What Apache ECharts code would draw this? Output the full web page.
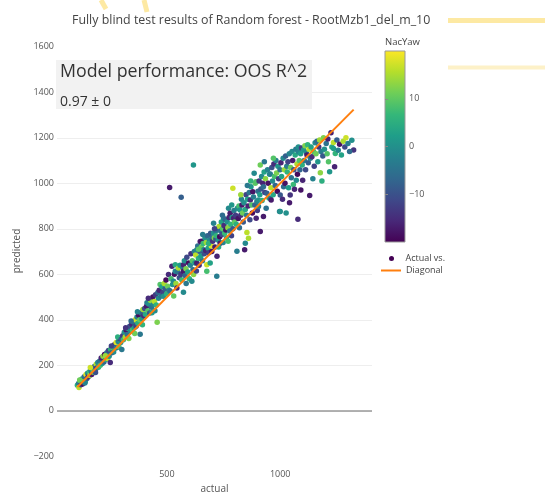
<!DOCTYPE html>
<html><head><meta charset="utf-8">
<script src="https://cdn.jsdelivr.net/npm/echarts@6/dist/echarts.min.js"></script>
<style>html,body{margin:0;padding:0;background:#fff}#c{width:545px;height:502px}</style>
</head><body><div id="c"></div>
<script>
const titleText = 'Fully blind test results of Random forest - RootMzb1_del_m_10';
const actual = [
105,110,112,118,120,125,128,132,135,140, 143,147,150,153,158,160,165,168,172,175, 180,183,188,190,195,198,115,138,162,185,
203,206,210,214,218,222,225,230,235,238, 242,245,250,252,257,260,265,268,272,276, 280,285,288,292,296,301,228,255,283,298,
305,308,312,316,320,325,328,332,336,340, 345,348,352,356,360,364,368,372,376,380, 382,386,390,394,398,342,358,370,392,318,
402,405,410,412,416,420,424,428,432,434, 438,441,445,450,453,457,460,463,466,470, 474,478,482,485,488,492,496,499,418,447,
503,507,510,515,518,522,525,529,533,537, 537,540,544,548,551,555,558,562,566,570, 573,573,573,577,580,584,588,592,596,599, 512,563,530,585,
603,606,610,612,615,617,618,621,624,627, 630,632,632,636,639,642,645,647,650,652, 654,657,660,662,665,668,671,674,676,676, 679,682,685,688,691,693,696,698,640,658, 684,699,
702,706,706,709,712,715,716,718,720,721, 724,727,730,733,735,737,740,743,746,748, 750,752,755,758,760,763,766,769,772,774, 777,779,782,785,788,791,791,794,796,799, 710,728,745,770,786,
803,806,809,811,815,818,820,823,826,829, 831,834,837,840,843,846,846,849,852,853, 856,858,860,863,866,868,871,874,877,879, 882,885,888,890,893,894,897,899,826,855, 870,
902,904,904,907,910,912,912,915,918,920, 923,926,926,929,932,935,938,941,944,947, 950,953,956,956,959,960,963,966,969,972, 975,978,981,984,987,990,993,997,999,1000, 1000,930,970,
1003,1006,1010,1013,1015,1018,1021,1024,1026,1029, 1031,1034,1037,1040,1041,1044,1046,1049,1052,1055, 1058,1060,1063,1066,1069,1071,1074,1076,1078,1080, 1081,1084,1087,1090,1091,1094,1097,1099,
1103,1106,1109,1112,1115,1118,1121,1124,1127,1130, 1133,1136,1140,1144,1147,1150,1154,1158,1162,1166, 1170,1174,1177,1180,1184,1188,1191,1195,
1203,1207,1210,1213,1218,1224,1228,1235,1235,1240, 1243,1250,1256,1262,1270,1278,1285,1299,1316,1324, 1290,1306
];
const predicted = [
112,120,103,130,115,140,118,135,150,128, 160,142,165,150,172,155,178,160,185,170, 195,176,205,188,212,192,135,122,190,168,
218,200,232,208,240,215,248,226,255,230, 265,240,212,270,255,280,258,290,275,300, 278,305,282,318,300,270,242,285,325,315,
330,312,345,325,355,335,362,318,372,350, 380,355,390,365,400,372,412,385,420,400, 337,430,405,445,418,395,340,435,378,365,
450,425,460,475,440,470,430,485,455,431, 500,467,480,510,465,389,520,495,530,555, 505,545,520,504,560,535,575,515,495,440,
548,599,530,526,580,635,555,570,600,613, 642,560,540,610,628,585,640,600,575,630, 642,613,521,660,595,625,675,610,650,580, 982,939,505,560,
640,690,569,660,620,1080,599,700,650,685, 615,650,708,725,670,640,700,744,680,720, 745,660,735,708,690,760,705,740,613,642, 770,715,695,750,650,780,725,700,710,775, 735,760,
745,781,825,760,720,790,755,770,591,679, 800,750,810,765,737,790,830,775,800,740, 847,815,780,840,795,760,830,805,890,850, 790,868,820,770,850,978,800,847,880,830, 800,720,860,745,905,
860,820,701,890,845,900,805,883,860,930, 905,870,830,915,708,737,885,950,860,784, 930,900,759,960,840,927,985,905,870,963, 940,1044,905,1000,1007,847,920,880,950,990, 1010,
965,927,898,1010,950,1080,788,975,1030,925, 1000,985,854,1050,960,1020,890,956,1060,1000, 935,1040,1041,934,980,927,1070,1010,950,1085, 1030,990,1100,1045,965,1075,1020,876,1060,949, 876,1095,1110,
1090,1030,930,1110,985,1060,1000,1120,869,1075, 1050,1095,980,1130,915,949,1070,1025,1140,1100, 995,1060,974,1125,1150,1014,1085,1040,842,1160, 1138,1100,1060,1130,971,1155,1080,1014,
1146,1100,1165,1060,1135,1124,1170,1090,1150,946, 1110,1160,1117,1020,1140,1075,1178,1130,1185,1095, 1160,1190,1047,1140,1010,1120,1200,1150,
1175,1130,1195,1095,1051,1222,1160,1179,1153,1073, 1131,1190,1145,1172,1125,1185,1160,1175,1189,1146, 1200,1140
];
const nacYaw = [
5,-3,16,9,-12,2,-18,12,-6,4, 18,-9,0,-15,7,14,-4,-17,3,10, -8,1,15,-13,-1,6,11,-2,17,-10,
-5,8,-16,2,13,-7,-19,4,-3,16, -11,0,-15,6,-8,11,-1,-14,3,18, -6,-2,9,-17,1,-4,14,-12,5,-9,
-13,7,0,15,-18,-5,3,12,-10,-1, -16,8,-7,2,17,-12,-3,5,-19,10, -4,-8,1,14,-15,-6,11,-2,6,-14,
-11,4,-17,-3,9,0,-9,13,-5,2, -18,-2,16,-13,6,12,-7,-1,-16,9, -4,3,-12,0,15,-8,-19,5,-15,-1,
11,-15,-2,-6,8,-16,1,-1,-18,-2, 4,14,-16,-5,15,-10,2,-13,7,-3, -16,-17,-1,0,-7,12,-11,3,-19,6, -17,-8,10,-4,
-2,-14,-1,9,-6,1,13,-3,0,16, -12,-17,-1,-5,5,-15,-8,-17,2,11, -18,-4,7,-2,-10,0,-16,14,8,17, -7,3,-13,-1,3,-9,18,-18,10,-3, 5,-6,
-14,0,-2,12,-17,-4,-9,6,-3,-16, -8,1,15,-19,-17,-5,3,-11,9,-2, -2,-15,7,-7,-18,4,0,13,-1,-16, -4,-17,6,-12,2,17,-9,-16,-3,10, -12,4,-6,8,1,
-13,5,-3,-1,-18,8,-6,1,-15,-2, -17,11,-9,0,-17,-1,4,-12,-4,16, 3,-16,15,-5,-11,-15,1,9,-19,-18, -3,-1,-8,10,9,-16,-2,-13,14,-4, 6,
-6,0,-3,-14,2,11,-17,-9,-1,5, -16,-6,-17,3,-12,13,-5,-8,-2,-18, 7,0,-3,-4,16,-17,-10,-1,4,-15, 8,-7,-3,12,-19,1,-13,-2,-5,-9, 0,-4,9,
-16,3,-15,-1,-6,14,-18,-8,0,-3, 6,-12,2,-2,-17,-14,11,-5,-1,-17, 7,-10,-16,4,-3,-1,15,-19,-15,0, -2,9,-7,2,-18,-13,5,-16,
1,-4,12,-11,-1,-17,6,-8,16,-17, -2,3,-15,-2,8,-12,-1,11,-6,1, -14,14,13,-3,5,-9,12,0,
-5,9,-16,9,1,-17,4,16,2,-16, 6,-8,-2,-18,3,15,-11,-3,0,-14, 17,-6
];
const xTicks = [500, 1000];
const yTicks = [-200, 0, 200, 400, 600, 800, 1000, 1200, 1400, 1600];
const cbTicks = [-10, 0, 10];
const annotationTitle = 'Model performance: OOS R^2';
const annotationValue = '0.97 ± 0';
const viridis = ['#440154','#482878','#3e4989','#31688e','#26828e','#1f9e89','#35b779','#6ece58','#b5de2b','#fde725'];

const FONT = '"Open Sans", "DejaVu Sans", sans-serif';
const fmt = v => v < 0 ? '\u2212' + Math.abs(v) : String(v);
const points = actual.map((a, i) => [a, predicted[i], nacYaw[i]]);
const lo = Math.min(...actual), hi = Math.max(...actual);

const chart = echarts.init(document.getElementById('c'), null, {renderer: 'canvas'});
const gradStops = viridis.map((c, i) => ({offset: i / (viridis.length - 1), color: c})).reverse()
  .map(s => ({offset: 1 - s.offset, color: s.color}));

chart.setOption({
  animation: false,
  textStyle: {fontFamily: FONT},
  title: {text: titleText, left: 67, top: 9,
    textStyle: {fontSize: 12.4, fontWeight: 'normal', color: '#444', fontFamily: FONT}},
  grid: [
    {left: 57, right: 173, top: 40, bottom: 40},
    {left: 385, top: 51, width: 20, height: 191, show: true, borderColor: '#999', borderWidth: 1,
      backgroundColor: {type: 'linear', x: 0, y: 0, x2: 0, y2: 1, colorStops: gradStops}}
  ],
  xAxis: [
    {gridIndex: 0, type: 'value', min: 15, max: 1405,
      name: 'actual', nameLocation: 'middle', nameGap: 22,
      nameTextStyle: {fontSize: 10, color: '#555', fontFamily: FONT},
      axisLine: {show: false},
      axisTick: {show: false, customValues: xTicks},
      axisLabel: {customValues: xTicks, fontSize: 9, color: '#555', margin: 8, formatter: fmt, fontFamily: FONT},
      splitLine: {show: true, showMinLine: false, showMaxLine: false, lineStyle: {color: '#eeeeee', width: 1}}},
    {gridIndex: 1, type: 'value', min: 0, max: 1, show: false}
  ],
  yAxis: [
    {gridIndex: 0, type: 'value', min: -225, max: 1630,
      name: 'predicted', nameLocation: 'middle', nameGap: 22,
      nameTextStyle: {fontSize: 10, color: '#555', fontFamily: FONT},
      axisLine: {show: false},
      axisTick: {show: false, customValues: yTicks},
      axisLabel: {customValues: yTicks, fontSize: 9, color: '#555', margin: 3, formatter: fmt, fontFamily: FONT},
      splitLine: {show: true, showMinLine: false, showMaxLine: false, lineStyle: {color: '#eeeeee', width: 1}}},
    {gridIndex: 1, type: 'value', min: -20, max: 20, position: 'right',
      axisLine: {show: false},
      axisTick: {show: true, length: 3, inside: false, customValues: cbTicks, lineStyle: {color: '#888'}},
      axisLabel: {customValues: cbTicks, fontSize: 9, color: '#555', margin: 4, formatter: fmt, fontFamily: FONT},
      splitLine: {show: false}}
  ],
  visualMap: {show: false, type: 'continuous', min: -20, max: 20, dimension: 2, seriesIndex: 0,
    inRange: {color: viridis}},
  legend: [
    {data: [{name: 'Actual vs.', icon: 'circle', itemStyle: {color: '#440154'}}],
      left: 389, top: 254, itemWidth: 18, itemHeight: 5, padding: 0,
      textStyle: {fontSize: 9, color: '#444', fontFamily: FONT}},
    {data: [{name: 'Diagonal', icon: 'rect', itemStyle: {color: '#ff7f0e'}}],
      left: 381, top: 266, itemWidth: 20, itemHeight: 2, padding: 0,
      textStyle: {fontSize: 9, color: '#444', fontFamily: FONT}}
  ],
  series: [
    {type: 'scatter', name: 'Actual vs.', xAxisIndex: 0, yAxisIndex: 0, data: points,
      symbolSize: 5.5, itemStyle: {color: '#440154', opacity: 1}, z: 2},
    {type: 'line', name: 'Diagonal', xAxisIndex: 0, yAxisIndex: 0,
      data: [[lo, lo], [hi, hi]], symbol: 'none', showSymbol: false,
      lineStyle: {color: '#ff7f0e', width: 2}, itemStyle: {color: '#ff7f0e'}, z: 3,
      markLine: {silent: true, symbol: 'none', label: {show: false},
        lineStyle: {color: '#999', width: 1.5, type: 'solid'}, data: [{yAxis: 0}]}}
  ],
  graphic: [
    {type: 'line', shape: {x1: 448, y1: 20.5, x2: 545, y2: 20.5}, style: {stroke: '#fde9a3', lineWidth: 5}, z: -1},
    {type: 'line', shape: {x1: 448, y1: 67.5, x2: 545, y2: 67.5}, style: {stroke: '#fdf1c8', lineWidth: 4}, z: -1},
    {type: 'line', shape: {x1: 101, y1: 0, x2: 106, y2: 9}, style: {stroke: '#fde9a3', lineWidth: 5}, z: -1},
    {type: 'line', shape: {x1: 144, y1: 0, x2: 147, y2: 12}, style: {stroke: '#fde9a3', lineWidth: 5}, z: -1},
    {type: 'rect', shape: {x: 56, y: 60, width: 256, height: 49}, style: {fill: '#f2f2f2'}, z: 10},
    {type: 'text', x: 60, y: 72, z: 11, style: {text: annotationTitle, font: '17.8px "Open Sans"', fill: '#333', verticalAlign: 'middle'}},
    {type: 'text', x: 60, y: 102, z: 11, style: {text: annotationValue, font: '14px "Open Sans"', fill: '#333', verticalAlign: 'middle'}},
    {type: 'text', x: 385, y: 42, z: 11, style: {text: 'NacYaw', font: '9.5px "Open Sans"', fill: '#444', verticalAlign: 'middle'}}
  ]
});
</script></body></html>
